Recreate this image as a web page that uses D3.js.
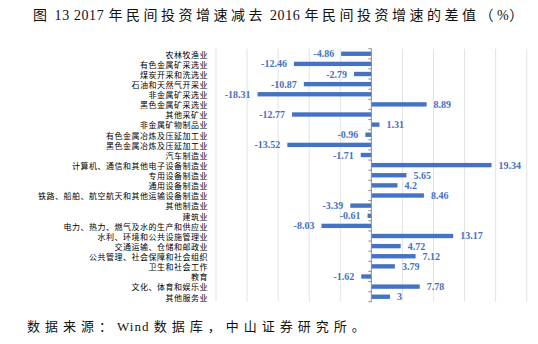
<!DOCTYPE html>
<html>
<head>
<meta charset="utf-8">
<script src="https://cdn.jsdelivr.net/npm/d3@7"></script>
<style>
  html, body { margin: 0; padding: 0; background: #fff; }
  svg { display: block; }
</style>
</head>
<body>
<svg id="chart" width="538" height="344"></svg>
<script>
// Industries, top to bottom
const categories = [
  "农林牧渔业",
  "有色金属矿采选业",
  "煤炭开采和洗选业",
  "石油和天然气开采业",
  "非金属矿采选业",
  "黑色金属矿采选业",
  "其他采矿业",
  "非金属矿物制品业",
  "有色金属冶炼及压延加工业",
  "黑色金属冶炼及压延加工业",
  "汽车制造业",
  "计算机、通信和其他电子设备制造业",
  "专用设备制造业",
  "通用设备制造业",
  "铁路、船舶、航空航天和其他运输设备制造业",
  "其他制造业",
  "建筑业",
  "电力、热力、燃气及水的生产和供应业",
  "水利、环境和公共设施管理业",
  "交通运输、仓储和邮政业",
  "公共管理、社会保障和社会组织",
  "卫生和社会工作",
  "教育",
  "文化、体育和娱乐业",
  "其他服务业"
];

// 2017 growth minus 2016 growth of private investment (percentage points)
const diffValues = [
  -4.86, -12.46, -2.79, -10.87, -18.31, 8.89, -12.77, 1.31, -0.96, -13.52,
  -1.71, 19.34, 5.65, 4.2, 8.46, -3.39, -0.61, -8.03, 13.17, 4.72,
  7.12, 3.79, -1.62, 7.78, 3
];

const gridTicks = [-25, -20, -15, -10, -5, 0, 5, 10, 15, 20, 25];

const titleText = "图 13 2017 年民间投资增速减去 2016 年民间投资增速的差值（%）";
const sourceText = "数据来源：Wind 数据库，中山证券研究所。";

const svg = d3.select("#chart");
const barColor = "#4472C4";

const x = d3.scaleLinear().domain([-25, 25]).range([216, 526.7]);
const y = d3.scaleBand().domain(categories).range([48.7, 301.8]).paddingInner(0.57).paddingOuter(0.285);

// Split a string into runs of CJK and non-CJK characters
function runs(str) {
  const cjk = /[\u3000-\u303f\u4e00-\u9fff\uff00-\uffef]/;
  const out = [];
  for (const ch of str) {
    const isC = cjk.test(ch);
    if (out.length && out[out.length - 1].cjk === isC) out[out.length - 1].t += ch;
    else out.push({ t: ch, cjk: isC });
  }
  // keep word spaces between scripts from collapsing
  out.forEach(r => { if (!r.cjk) r.t = r.t.replace(/ /g, "\u00a0"); });
  return out;
}

// Mixed-script text line: CJK runs spaced out, Latin runs set tighter
function mixedText(sel, str, size, cjkSpacing, latinSpacing) {
  const t = sel.append("text")
    .style("font-size", size + "px")
    .attr("fill", "#111");
  t.selectAll("tspan")
    .data(runs(str))
    .join("tspan")
    .style("font-family", d => d.cjk ? "'Noto Sans CJK SC', sans-serif" : "'Liberation Serif', serif")
    .style("letter-spacing", d => (d.cjk ? cjkSpacing : latinSpacing) + "px")
    .text(d => d.t);
  return t;
}

// Title
mixedText(svg, titleText, 14, 3.5, 0.6).attr("x", 33).attr("y", 20);

// Vertical gridlines
svg.append("g")
  .selectAll("line")
  .data(gridTicks.filter(d => d !== 0))
  .join("line")
  .attr("x1", d => x(d)).attr("x2", d => x(d))
  .attr("y1", 48.7).attr("y2", 301.8)
  .attr("stroke", "#e3e3e3").attr("stroke-width", 1);

// Bars
svg.append("g")
  .selectAll("rect")
  .data(categories)
  .join("rect")
  .attr("x", (d, i) => Math.min(x(0), x(diffValues[i])))
  .attr("width", (d, i) => Math.abs(x(diffValues[i]) - x(0)))
  .attr("y", d => y(d))
  .attr("height", y.bandwidth())
  .attr("fill", barColor);

// Zero axis with category boundary ticks
const step = y.step();
const axisG = svg.append("g");
axisG.append("line")
  .attr("x1", x(0)).attr("x2", x(0))
  .attr("y1", 48.7).attr("y2", 301.8)
  .attr("stroke", "#8c8c8c").attr("stroke-width", 1);
axisG.selectAll("line.tick")
  .data(d3.range(categories.length + 1))
  .join("line")
  .attr("class", "tick")
  .attr("x1", x(0) - 3).attr("x2", x(0))
  .attr("y1", i => 48.7 + i * step).attr("y2", i => 48.7 + i * step)
  .attr("stroke", "#8c8c8c").attr("stroke-width", 1);

// Category labels
svg.append("g")
  .selectAll("text")
  .data(categories)
  .join("text")
  .attr("x", 208)
  .attr("y", d => y(d) + y.bandwidth() / 2 + 1)
  .attr("dy", "0.35em")
  .attr("text-anchor", "end")
  .style("font-family", "'Noto Sans CJK SC', sans-serif")
  .style("font-size", "8px")
  .style("letter-spacing", "0.5px")
  .attr("fill", "#000")
  .text(d => d);

// Value labels
svg.append("g")
  .selectAll("text")
  .data(categories)
  .join("text")
  .attr("x", (d, i) => diffValues[i] >= 0 ? x(diffValues[i]) + 7 : x(diffValues[i]) - 7)
  .attr("y", d => y(d) + y.bandwidth() / 2)
  .attr("dy", "0.35em")
  .attr("text-anchor", (d, i) => diffValues[i] >= 0 ? "start" : "end")
  .style("font-family", "'Liberation Serif', serif")
  .style("font-weight", "bold")
  .style("font-size", "10px")
  .attr("fill", barColor)
  .text((d, i) => String(diffValues[i]));

// Source note
mixedText(svg, sourceText, 13, 5, 1).attr("x", 27).attr("y", 331);
</script>
</body>
</html>
